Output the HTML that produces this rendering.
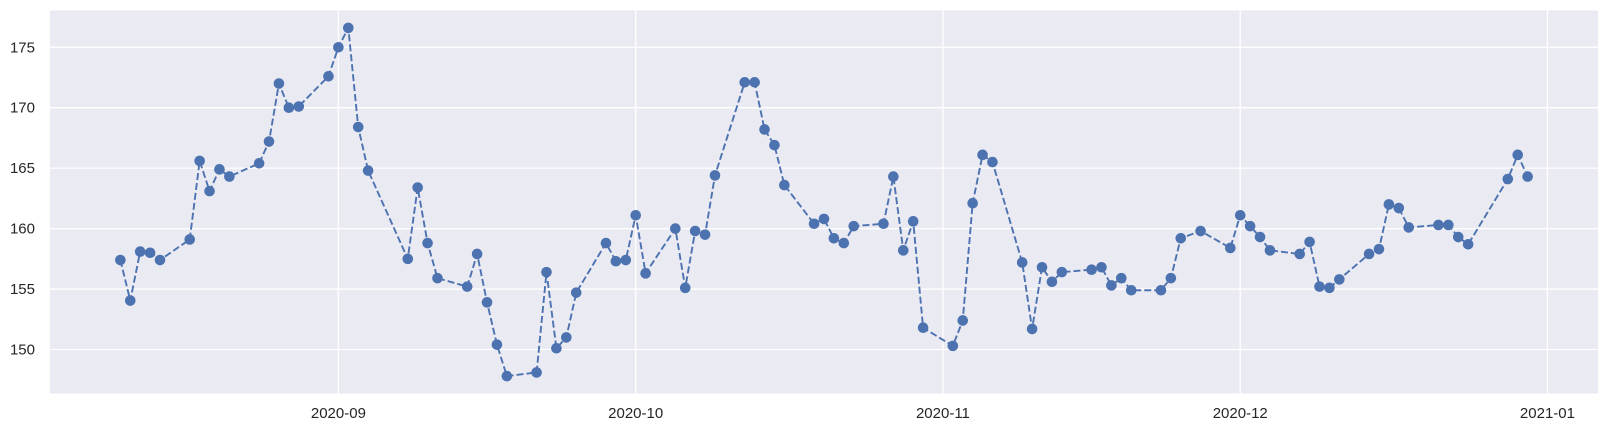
<!DOCTYPE html>
<html><head><meta charset="utf-8"><style>
html,body{margin:0;padding:0;background:#fff;}
svg{display:block;}
text{font-family:"Liberation Sans",Arial,sans-serif;font-size:15px;fill:#262626;}
</style></head><body>
<svg id="chart" width="1608" height="432" viewBox="0 0 1608 432" xmlns="http://www.w3.org/2000/svg">
<rect x="50" y="10.5" width="1548" height="383" fill="#EAEAF2"/>
<g id="grid"></g><g id="xt"></g><g id="yt"></g><g id="series"></g>
</svg>
<script>
const dates = ["2020-08-10","2020-08-11","2020-08-12","2020-08-13","2020-08-14","2020-08-17","2020-08-18","2020-08-19","2020-08-20","2020-08-21","2020-08-24","2020-08-25","2020-08-26","2020-08-27","2020-08-28","2020-08-31","2020-09-01","2020-09-02","2020-09-03","2020-09-04","2020-09-08","2020-09-09","2020-09-10","2020-09-11","2020-09-14","2020-09-15","2020-09-16","2020-09-17","2020-09-18","2020-09-21","2020-09-22","2020-09-23","2020-09-24","2020-09-25","2020-09-28","2020-09-29","2020-09-30","2020-10-01","2020-10-02","2020-10-05","2020-10-06","2020-10-07","2020-10-08","2020-10-09","2020-10-12","2020-10-13","2020-10-14","2020-10-15","2020-10-16","2020-10-19","2020-10-20","2020-10-21","2020-10-22","2020-10-23","2020-10-26","2020-10-27","2020-10-28","2020-10-29","2020-10-30","2020-11-02","2020-11-03","2020-11-04","2020-11-05","2020-11-06","2020-11-09","2020-11-10","2020-11-11","2020-11-12","2020-11-13","2020-11-16","2020-11-17","2020-11-18","2020-11-19","2020-11-20","2020-11-23","2020-11-24","2020-11-25","2020-11-27","2020-11-30","2020-12-01","2020-12-02","2020-12-03","2020-12-04","2020-12-07","2020-12-08","2020-12-09","2020-12-10","2020-12-11","2020-12-14","2020-12-15","2020-12-16","2020-12-17","2020-12-18","2020-12-21","2020-12-22","2020-12-23","2020-12-24","2020-12-28","2020-12-29","2020-12-30"];
const values = [157.4,154.05,158.1,158.0,157.4,159.1,165.6,163.1,164.9,164.3,165.4,167.2,172.0,170.0,170.1,172.6,175.0,176.6,168.4,164.8,157.5,163.4,158.8,155.9,155.2,157.9,153.9,150.4,147.8,148.1,156.4,150.1,151.0,154.7,158.8,157.3,157.4,161.1,156.3,160.0,155.1,159.8,159.5,164.4,172.1,172.1,168.2,166.9,163.6,160.4,160.8,159.2,158.8,160.2,160.4,164.3,158.2,160.6,151.8,150.3,152.4,162.1,166.1,165.5,157.2,151.7,156.8,155.6,156.4,156.6,156.8,155.3,155.9,154.9,154.9,155.9,159.2,159.8,158.4,161.1,160.2,159.3,158.2,157.9,158.9,155.2,155.1,155.8,157.9,158.3,162.0,161.7,160.1,160.3,160.3,159.3,158.7,164.1,166.1,164.3];
const yTicks = [150,155,160,165,170,175];
const xTickDates = ["2020-09-01","2020-10-01","2020-11-01","2020-12-01","2021-01-01"];
const xTickLabels = ["2020-09","2020-10","2020-11","2020-12","2021-01"];

const NS="http://www.w3.org/2000/svg";
const L=50,R=1598,T=10.5,B=393.5;
const day=s=>Date.UTC(+s.slice(0,4),+s.slice(5,7)-1,+s.slice(8,10))/864e5;
const ds=dates.map(day);
const dmin=Math.min(...ds),dmax=Math.max(...ds),dm=(dmax-dmin)*0.05;
const vmin=Math.min(...values),vmax=Math.max(...values),vm=(vmax-vmin)*0.05;
const x=d=>L+(d-(dmin-dm))/((dmax+dm)-(dmin-dm))*(R-L);
const y=v=>B-(v-(vmin-vm))/((vmax+vm)-(vmin-vm))*(B-T);
function mk(tag,attrs,parent){const e=document.createElementNS(NS,tag);for(const k in attrs)e.setAttribute(k,attrs[k]);parent.appendChild(e);return e;}
const grid=document.getElementById('grid'),xt=document.getElementById('xt'),yt=document.getElementById('yt'),ser=document.getElementById('series');
yTicks.forEach(v=>{
  const g=mk('line',{x1:L,x2:R,y1:y(v),y2:y(v),stroke:'#fff','stroke-width':1.3},grid);
  
  
  const t=mk('text',{x:35,y:y(v)+5,'text-anchor':'end'},yt);t.textContent=v;
  
  
});
xTickDates.forEach((s,i)=>{
  const xx=x(day(s));
  const g=mk('line',{x1:xx,x2:xx,y1:T,y2:B,stroke:'#fff','stroke-width':1.3},grid);
  
  
  const t=mk('text',{x:xx,y:418,'text-anchor':'middle'},xt);t.textContent=xTickLabels[i];
  
  
});
const pts=ds.map((d,i)=>x(d).toFixed(2)+','+y(values[i]).toFixed(2)).join(' ');
const pl=mk('polyline',{points:pts,fill:'none',stroke:'#4C72B0','stroke-width':1.9,'stroke-dasharray':'7,3'},ser);


ds.forEach((d,i)=>{
  const c=mk('circle',{cx:x(d),cy:y(values[i]),r:5.3,fill:'#4C72B0'},ser);
  
  
});
</script>
</body></html>
